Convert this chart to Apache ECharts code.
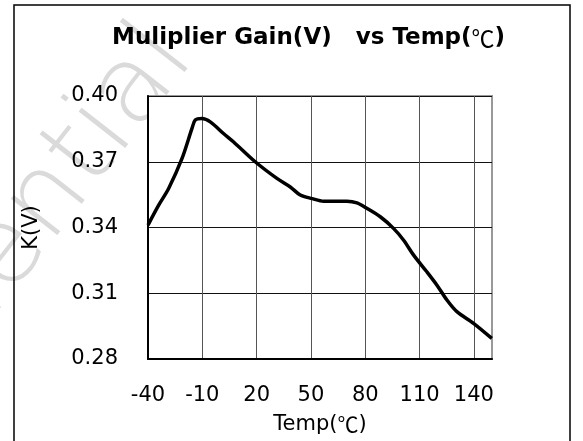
<!DOCTYPE html>
<html><head><meta charset="utf-8">
<script src="https://cdn.jsdelivr.net/npm/echarts@6/dist/echarts.min.js"></script>
<style>html,body{margin:0;padding:0;background:#fff}#c{width:583px;height:441px}</style>
</head><body><div id="c"></div>
<script>
const temps = [-40, -34.1, -28.6, -21.2, -15.7, -13.9, -10.2, -5.6, 1.7, 7.3, 19.2, 31.2, 38.6, 44.1, 50.6, 57, 69.9, 75.4, 81, 88.3, 95.6, 101.2, 106.7, 114, 119.6, 125.1, 130.6, 139.8, 149.9];
const gains = [0.3411, 0.3502, 0.3578, 0.3715, 0.3852, 0.3890, 0.3897, 0.3882, 0.3829, 0.3790, 0.3700, 0.3624, 0.3585, 0.3548, 0.3532, 0.3520, 0.3520, 0.3512, 0.3487, 0.3449, 0.3396, 0.3342, 0.3274, 0.3198, 0.3137, 0.3069, 0.3016, 0.2963, 0.2894];
const xTickValues = [-40, -10, 20, 50, 80, 110, 140];
const titleText = ['Muliplier Gain(V)   vs Temp(', '℃', ')'];
const xName = ['Temp(', '℃', ')'];
const yName = 'K(V)';

const chart = echarts.init(document.getElementById('c'), null, {renderer: 'canvas'});
const FONT = 'DejaVu Sans';
chart.setOption({
  backgroundColor: '#fff',
  animation: false,
  graphic: [
    {type: 'text', x: 216, y: 74, rotation: 52 * Math.PI / 180, z: -10,
     style: {text: 'Confidential', font: '300 108px "DejaVu Sans"', fill: '#dadada', align: 'right', verticalAlign: 'bottom'}},
    {type: 'rect', shape: {x: 148, y: 96, width: 344, height: 263}, style: {fill: '#fff'}, z: -5},
    {type: 'rect', shape: {x: 14, y: 5, width: 556, height: 460}, style: {fill: 'none', stroke: '#000', lineWidth: 1.5}, z: 100}
  ],
  title: {
    text: '{a|' + titleText[0] + '}{b|' + titleText[1] + '}{a|' + titleText[2] + '}',
    left: 107, top: 22,
    textStyle: {
      rich: {
        a: {fontFamily: FONT, fontWeight: 'bold', fontSize: 23, color: '#000'},
        b: {fontFamily: 'Noto Sans CJK SC', fontWeight: 'normal', fontSize: 23, color: '#000'}
      }
    }
  },
  grid: {left: 148, top: 96, right: 91, bottom: 82, show: true, borderColor: '#999', borderWidth: 2, containLabel: false},
  xAxis: {
    type: 'value', min: -40, max: 150,
    name: '{a|' + xName[0] + '}{b|' + xName[1] + '}{a|' + xName[2] + '}',
    nameLocation: 'middle', nameGap: 55,
    nameTextStyle: {rich: {
      a: {fontFamily: FONT, fontSize: 21, color: '#000'},
      b: {fontFamily: 'Noto Sans CJK SC', fontSize: 21, color: '#000'}
    }},
    axisLine: {show: true, onZero: false, lineStyle: {color: '#000', width: 2}},
    axisTick: {show: false, customValues: xTickValues},
    axisLabel: {customValues: xTickValues, margin: 26, fontFamily: FONT, fontSize: 21, color: '#000'},
    splitLine: {show: true, lineStyle: {color: '#555', width: 1}}
  },
  yAxis: {
    type: 'value', min: 0.28, max: 0.40, interval: 0.03,
    name: yName, nameLocation: 'middle', nameGap: 106,
    nameTextStyle: {fontFamily: FONT, fontSize: 21, color: '#000'},
    axisLine: {show: true, onZero: false, lineStyle: {color: '#000', width: 2}},
    axisTick: {show: false},
    axisLabel: {margin: 30, fontFamily: FONT, fontSize: 21, color: '#000', formatter: v => v.toFixed(2)},
    splitLine: {show: true, lineStyle: {color: '#111', width: 1}}
  },
  series: [{
    type: 'line', data: temps.map((t, i) => [t, gains[i]]),
    showSymbol: false, smooth: 0.3,
    lineStyle: {color: '#000', width: 3.5}
  }]
});
</script></body></html>
